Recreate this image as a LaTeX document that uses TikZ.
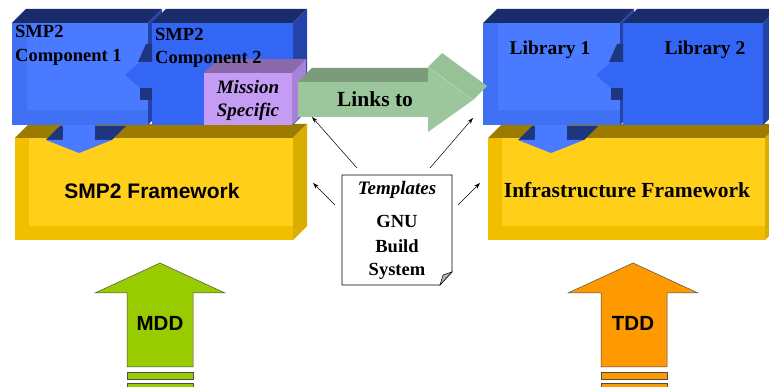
\documentclass[tikz,border=0pt]{standalone}
\usepackage{fontspec}
\setmainfont{Liberation Serif}
\newfontfamily\arialf{Liberation Sans}
\usetikzlibrary{arrows.meta}
\definecolor{bluelt}{HTML}{4A7AFF}
\definecolor{bluebv}{HTML}{4070F4}
\definecolor{bluemd}{HTML}{3366F5}
\definecolor{bluetop}{HTML}{1A2D6B}
\definecolor{blueside}{HTML}{2443A8}
\definecolor{bluetab}{HTML}{1E3580}
\definecolor{yelfr}{HTML}{FFCF1A}
\definecolor{yelbv}{HTML}{F2BE00}
\definecolor{yeltop}{HTML}{9C7B00}
\definecolor{yelside}{HTML}{D9AE00}
\definecolor{grfr}{HTML}{9CC79C}
\definecolor{grtop}{HTML}{7A9C7A}
\definecolor{grhead}{HTML}{97C197}
\definecolor{lvfr}{HTML}{C49CF4}
\definecolor{lvtop}{HTML}{8A6AAA}
\definecolor{lvside}{HTML}{A882D8}
\definecolor{mddc}{HTML}{99CC00}
\definecolor{tddc}{HTML}{FF9900}
\newcommand{\fsz}[1]{\fontsize{#1}{#1}\selectfont}
% cuboid: x1 y1 x2 y2 front top side
\newcommand{\mycuboid}[7]{%
  \fill[#6] (#1,#2) -- (#1+14,#2-14) -- (#3+14,#2-14) -- (#3,#2) -- cycle;
  \fill[#7] (#3,#2) -- (#3+14,#2-14) -- (#3+14,#4-14) -- (#3,#4) -- cycle;
  \fill[#5] (#1,#2) rectangle (#3,#4);}
% downward tab, centre x
\newcommand{\downtab}[3]{%
  \fill[bluetab] (#1-33,140) -- (#1-19,126) -- (#1-16,126) -- (#1-16,140) -- cycle;
  \fill[bluetab] (#1+16,126) -- (#1+47,126) -- (#1+33,140) -- (#1+16,140) -- cycle;
  \fill[#2] (#1-16,125) rectangle (#1+16,140.5);
  \fill[#2] (#1-33,140) -- (#1+33,140) -- (#1,153) -- cycle;}
% leftward tab, right x
\newcommand{\lefttab}[2]{%
  \fill[bluetab] (#1-14,62) -- (#1-6,44) -- (#1,44) -- (#1,62) -- cycle;
  \fill[bluetab] (#1-12,88) -- (#1,88) -- (#1,100) -- (#1-12,100) -- cycle;
  \fill[#2] (#1,62) -- (#1-12,62) -- (#1-27,75) -- (#1-12,88) -- (#1,88) -- cycle;}
\tikzset{
  lbl/.style={inner sep=0pt, anchor=base},
  lblw/.style={inner sep=0pt, anchor=base west},
  ptr/.style={-{Stealth[length=6pt,width=4pt]}, line width=0.5pt},
  bigarrow/.style={draw=black!70, line width=0.5pt}
}
\begin{document}
\begin{tikzpicture}[x=1pt,y=-1pt]
\useasboundingbox (0,0) rectangle (769,387);
\fill[white] (0,0) rectangle (769,387);

% ---------- left group ----------
\mycuboid{15}{138}{293}{240}{yelbv}{yeltop}{yelside}
\fill[yelfr] (29,138) rectangle (293,226);
\mycuboid{12}{23}{148}{125}{bluebv}{bluetop}{blueside}
\fill[bluelt] (27,23) rectangle (148,110);
\mycuboid{152}{23}{293}{125}{bluemd}{bluetop}{blueside}
\lefttab{152}{bluemd}
\downtab{79}{bluelt}
\downtab{223}{bluemd}
\mycuboid{204}{73}{292}{125}{lvfr}{lvtop}{lvside}

% ---------- right group ----------
\mycuboid{488}{138}{765}{240}{yelbv}{yeltop}{yelside}
\fill[yelfr] (502,138) rectangle (765,226);
\mycuboid{483}{23}{620}{125}{bluebv}{bluetop}{blueside}
\fill[bluelt] (498,23) rectangle (620,110);
\mycuboid{623}{23}{763}{125}{bluemd}{bluetop}{blueside}
\lefttab{623}{bluemd}
\downtab{551}{bluelt}
\downtab{694}{bluemd}

% ---------- Links to arrow ----------
\fill[grtop] (298,82) -- (312,68) -- (442,68) -- (428,82) -- cycle;
\fill[grhead] (428,67) -- (442,53) -- (487,86) -- (473,100) -- cycle;
\draw[white!80!grfr, line width=0.4pt] (428,67) -- (473,100);
\fill[grfr] (298,82) -- (428,82) -- (428,67) -- (473,100) -- (428,132) -- (428,117) -- (298,117) -- cycle;

% ---------- Templates paper ----------
\draw[fill=white, line width=0.6pt] (342,175) -- (452,175) -- (452,272) -- (440,285) -- (342,285) -- cycle;
\draw[fill=black!30, line width=0.5pt] (452,272) -- (440,285) -- (443,275) -- cycle;

% ---------- labels ----------
\node[lblw, font=\bfseries\fsz{18.5}] (c1a) at (15,38) {SMP2};
\node[lblw, font=\bfseries\fsz{18.5}] (c1b) at (15,62) {Component 1};
\node[lblw, font=\bfseries\fsz{18.5}] (c2a) at (155,41) {SMP2};
\node[lblw, font=\bfseries\fsz{18.5}] (c2b) at (155,64) {Component 2};
\node[lbl, font=\bfseries\itshape\fsz{19}] (ms1) at (248,94) {Mission};
\node[lbl, font=\bfseries\itshape\fsz{19}] (ms2) at (248,117) {Specific};
\node[lbl, font=\bfseries\fsz{21.5}] (links) at (375,107) {Links to};
\node[lbl, font=\arialf\bfseries\fsz{21}] (smpfw) at (152,199) {SMP2 Framework};
\node[lbl, font=\bfseries\fsz{21.5}] (infra) at (627,198) {Infrastructure Framework};
\node[lbl, font=\bfseries\fsz{19.5}] (lib1) at (550,55) {Library 1};
\node[lbl, font=\bfseries\fsz{19.5}] (lib2) at (705,55) {Library 2};
\node[lbl, font=\bfseries\itshape\fsz{19}] (tmpl) at (397,195) {Templates};
\node[lbl, font=\bfseries\fsz{18.5}] (gnu) at (397,228) {GNU};
\node[lbl, font=\bfseries\fsz{18.5}] (build) at (397,253) {Build};
\node[lbl, font=\bfseries\fsz{18.5}] (sys) at (397,276) {System};

% ---------- pointer arrows ----------
\coordinate (p1s) at (357,168); \coordinate (p1e) at (312,117);
\coordinate (p2s) at (430,168); \coordinate (p2e) at (473,118);
\coordinate (p3s) at (335,205); \coordinate (p3e) at (313,183);
\coordinate (p4s) at (458,205); \coordinate (p4e) at (480,183);
\draw[ptr] (p1s) -- (p1e);
\draw[ptr] (p2s) -- (p2e);
\draw[ptr] (p3s) -- (p3e);
\draw[ptr] (p4s) -- (p4e);

% ---------- MDD / TDD arrows ----------
\draw[bigarrow, fill=mddc] (160,263) -- (225,293) -- (193,293) -- (193,367) -- (127,367) -- (127,293) -- (95,293) -- cycle;
\draw[bigarrow, fill=mddc] (127,372) rectangle (193,379);
\draw[bigarrow, fill=mddc] (127,383) rectangle (193,392);
\node[lbl, font=\arialf\bfseries\fsz{20.5}] (mdd) at (160,331) {MDD};

\draw[bigarrow, fill=tddc] (633,263) -- (698,293) -- (667,293) -- (667,367) -- (601,367) -- (601,293) -- (568,293) -- cycle;
\draw[bigarrow, fill=tddc] (601,372) rectangle (667,379);
\draw[bigarrow, fill=tddc] (601,383) rectangle (667,392);
\node[lbl, font=\arialf\bfseries\fsz{20.5}] (tdd) at (633,331) {TDD};
\end{tikzpicture}
\end{document}
